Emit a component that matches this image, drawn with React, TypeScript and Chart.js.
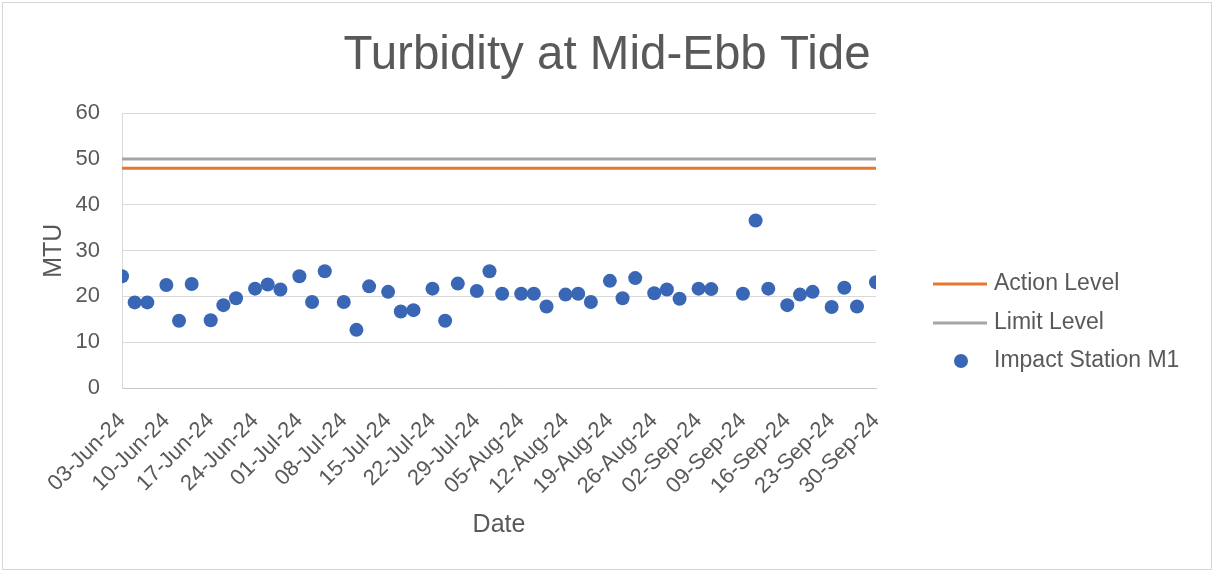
import React, { useEffect, useRef } from "react";
import { Chart, registerables } from "chart.js";

Chart.register(...registerables);

// ---------- data ----------
const START_DATE = "2024-06-03";
const END_DATE = "2024-09-30";

const sampleDates = [
  "2024-06-03", "2024-06-05", "2024-06-07", "2024-06-10", "2024-06-12", "2024-06-14",
  "2024-06-17", "2024-06-19", "2024-06-21", "2024-06-24", "2024-06-26", "2024-06-28",
  "2024-07-01", "2024-07-03", "2024-07-05", "2024-07-08", "2024-07-10", "2024-07-12",
  "2024-07-15", "2024-07-17", "2024-07-19", "2024-07-22", "2024-07-24", "2024-07-26",
  "2024-07-29", "2024-07-31", "2024-08-02", "2024-08-05", "2024-08-07", "2024-08-09",
  "2024-08-12", "2024-08-14", "2024-08-16", "2024-08-19", "2024-08-21", "2024-08-23",
  "2024-08-26", "2024-08-28", "2024-08-30", "2024-09-02", "2024-09-04", "2024-09-09",
  "2024-09-11", "2024-09-13", "2024-09-16", "2024-09-18", "2024-09-20", "2024-09-23",
  "2024-09-25", "2024-09-27", "2024-09-30",
];

const impactStationM1 = [
  24.4, 18.7, 18.7, 22.5, 14.7, 22.7,
  14.8, 18.1, 19.6, 21.7, 22.6, 21.5,
  24.4, 18.8, 25.5, 18.8, 12.7, 22.2,
  21.0, 16.7, 17.0, 21.7, 14.7, 22.8,
  21.2, 25.5, 20.6, 20.6, 20.6, 17.8,
  20.4, 20.6, 18.8, 23.4, 19.6, 24.0,
  20.7, 21.5, 19.5, 21.7, 21.6, 20.6,
  36.6, 21.7, 18.1, 20.4, 21.0, 17.7,
  21.9, 17.8, 23.1,
];

const levelDates = [START_DATE, END_DATE];
const actionLevel = [48, 48];
const limitLevel = [50, 50];

const xTickLabels = [
  "03-Jun-24", "10-Jun-24", "17-Jun-24", "24-Jun-24", "01-Jul-24", "08-Jul-24",
  "15-Jul-24", "22-Jul-24", "29-Jul-24", "05-Aug-24", "12-Aug-24", "19-Aug-24",
  "26-Aug-24", "02-Sep-24", "09-Sep-24", "16-Sep-24", "23-Sep-24", "30-Sep-24",
];

const seriesNames = ["Action Level", "Limit Level", "Impact Station M1"];
const chartTitle = "Turbidity at Mid-Ebb Tide";
const xAxisTitle = "Date";
const yAxisTitle = "MTU";

// ---------- helpers ----------
const DAY_MS = 86400000;
const dayOffset = (d: string) =>
  (Date.parse(d + "T00:00:00Z") - Date.parse(START_DATE + "T00:00:00Z")) / DAY_MS;

const FONT = "'Liberation Sans', Arial, sans-serif";
const TEXT = "#595959";
const ORANGE = "#E8772E";
const GREY = "#A5A5A5";
const BLUE = "#3A67B5";

const W = 1214;
const H = 572;

const backgroundPlugin = {
  id: "bgBorder",
  beforeDraw(chart: any) {
    const ctx = chart.ctx;
    ctx.save();
    ctx.fillStyle = "#ffffff";
    ctx.fillRect(0, 0, chart.width, chart.height);
    ctx.strokeStyle = "#d6d6d6";
    ctx.lineWidth = 1;
    ctx.strokeRect(2.5, 2.5, chart.width - 5, chart.height - 5);
    ctx.restore();
  },
};

const legendPlugin = {
  id: "sideLegend",
  afterDraw(chart: any) {
    const ctx = chart.ctx;
    const rows = [284, 323, 361];
    const lineX0 = 933;
    const lineX1 = 987;
    const textX = 994;
    ctx.save();
    ctx.font = `23px ${FONT}`;
    ctx.textBaseline = "middle";
    ctx.textAlign = "left";
    chart.data.datasets.forEach((ds: any, i: number) => {
      const y = rows[i];
      if (ds.showLine === false) {
        ctx.beginPath();
        ctx.fillStyle = ds.pointBackgroundColor;
        ctx.arc((lineX0 + lineX1) / 2 + 1, y, 7, 0, Math.PI * 2);
        ctx.fill();
      } else {
        ctx.beginPath();
        ctx.strokeStyle = ds.borderColor;
        ctx.lineWidth = ds.borderWidth;
        ctx.moveTo(lineX0, y);
        ctx.lineTo(lineX1, y);
        ctx.stroke();
      }
      ctx.fillStyle = TEXT;
      ctx.fillText(ds.label, textX, y);
    });
    ctx.restore();
  },
};

export default function App() {
  const canvasRef = useRef<HTMLCanvasElement | null>(null);

  useEffect(() => {
    if (!canvasRef.current) return;
    const chart = new Chart(canvasRef.current, {
      type: "line",
      data: {
        datasets: [
          {
            label: seriesNames[0],
            data: levelDates.map((d, i) => ({ x: dayOffset(d), y: actionLevel[i] })),
            borderColor: ORANGE,
            backgroundColor: ORANGE,
            borderWidth: 3,
            pointRadius: 0,
            order: 2,
          },
          {
            label: seriesNames[1],
            data: levelDates.map((d, i) => ({ x: dayOffset(d), y: limitLevel[i] })),
            borderColor: GREY,
            backgroundColor: GREY,
            borderWidth: 3,
            pointRadius: 0,
            order: 3,
          },
          {
            label: seriesNames[2],
            data: sampleDates.map((d, i) => ({ x: dayOffset(d), y: impactStationM1[i] })),
            showLine: false,
            borderColor: BLUE,
            backgroundColor: BLUE,
            pointBackgroundColor: BLUE,
            pointBorderColor: BLUE,
            pointBorderWidth: 0,
            pointRadius: 7,
            pointHoverRadius: 7,
            order: 1,
          },
        ],
      },
      options: {
        responsive: false,
        animation: false,
        devicePixelRatio: 1,
        layout: { padding: { left: 0, right: 0, top: 0, bottom: 0 } },
        plugins: {
          legend: { display: false },
          tooltip: { enabled: false },
          title: {
            display: true,
            text: chartTitle,
            color: TEXT,
            font: { family: FONT, size: 47.5, weight: "normal" },
            padding: { top: 27, bottom: 29.3 },
          },
        },
        scales: {
          x: {
            type: "linear",
            min: 0,
            max: dayOffset(END_DATE),
            afterFit: (s: any) => {
              s.height = H - 388;
            },
            grid: { display: false, drawTicks: false },
            border: { display: true, color: "#c8c8c8", width: 1 },
            ticks: {
              stepSize: 7,
              autoSkip: false,
              maxRotation: 45,
              minRotation: 45,
              padding: 20,
              color: TEXT,
              font: { family: FONT, size: 22 },
              callback: (v: any) => xTickLabels[Math.round(Number(v) / 7)] ?? "",
            },
            title: {
              display: true,
              text: xAxisTitle,
              color: TEXT,
              font: { family: FONT, size: 25 },
              padding: { top: 0, bottom: 32 },
            },
          },
          y: {
            min: 0,
            max: 60,
            afterFit: (s: any) => {
              s.width = 122;
            },
            grid: { color: "#d9d9d9", lineWidth: 1, drawTicks: false },
            border: { display: true, color: "#d9d9d9", width: 1 },
            ticks: {
              stepSize: 10,
              padding: 22,
              color: TEXT,
              font: { family: FONT, size: 22 },
            },
            title: {
              display: true,
              text: yAxisTitle,
              color: TEXT,
              font: { family: FONT, size: 25 },
              padding: { top: 39, bottom: 0 },
            },
          },
          legendSpace: {
            type: "linear",
            position: "right",
            display: true,
            afterFit: (s: any) => {
              s.width = W - 876;
            },
            grid: { display: false, drawTicks: false },
            border: { display: false },
            ticks: { display: false },
          },
        },
      },
      plugins: [backgroundPlugin, legendPlugin],
    } as any);
    return () => chart.destroy();
  }, []);

  return (
    <div style={{ position: "absolute", left: 0, top: 0, width: W, height: H }}>
      <canvas ref={canvasRef} width={W} height={H} style={{ display: "block" }} />
    </div>
  );
}
